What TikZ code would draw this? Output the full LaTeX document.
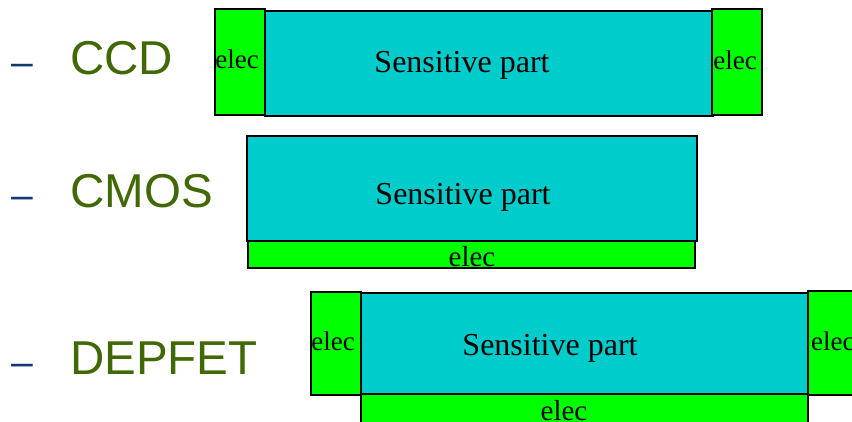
\documentclass[tikz,border=0pt]{standalone}
\usepackage{fontspec}
\setmainfont{Liberation Serif}
\newfontfamily\arialf{Liberation Sans}
\definecolor{sens}{RGB}{0,204,204}
\definecolor{elecg}{RGB}{0,255,0}
\definecolor{lblgreen}{RGB}{64,104,4}
\definecolor{dashblue}{RGB}{16,58,116}
\tikzset{
  box/.style={draw=black, line width=1.4pt, inner sep=0pt, outer sep=0pt, anchor=north west},
  sensbox/.style={box, fill=sens},
  elecbox/.style={box, fill=elecg},
  sentxt/.style={inner sep=0pt, anchor=base, font=\fontsize{32}{32}\selectfont},
  electxt/.style={inner sep=0pt, anchor=base, font=\fontsize{27}{27}\selectfont},
  lbl/.style={inner sep=0pt, anchor=base west, text=lblgreen, font=\arialf\fontsize{47.5}{47.5}\selectfont},
  dashlbl/.style={inner sep=0pt, anchor=base west, text=dashblue, font=\arialf\fontsize{39}{39}\selectfont}
}
\begin{document}
\begin{tikzpicture}[x=1pt,y=-1pt]
\clip (0,0) rectangle (852,421);
\fill[white] (0,0) rectangle (852,421);
% CCD
\node[dashlbl] (d1) at (11,75.5) {–};
\node[lbl] (l1) at (70,74.5) {CCD};
\node[sensbox, minimum width=448pt, minimum height=105pt] (ccdS) at (265,11) {};
\node[elecbox, minimum width=50pt, minimum height=106pt] (ccdL) at (215,9) {};
\node[elecbox, minimum width=50pt, minimum height=106pt] (ccdR) at (712,9) {};
\node[sentxt] (ccdSt) at (462,72) {Sensitive part};
\node[electxt] (ccdLt) at (237,68) {elec};
\node[electxt] (ccdRt) at (735,69) {elec};
% CMOS
\node[dashlbl] (d2) at (11,208.5) {–};
\node[lbl] (l2) at (70,207.5) {CMOS};
\node[sensbox, minimum width=450pt, minimum height=105pt] (cmosS) at (247,136) {};
\node[elecbox, minimum width=447pt, minimum height=27pt] (cmosE) at (248,241) {};
\node[sentxt] (cmosSt) at (463,204) {Sensitive part};
\node[electxt, font=\fontsize{29}{29}\selectfont] (cmosEt) at (472,266) {elec};
% DEPFET
\node[dashlbl] (d3) at (11,375.5) {–};
\node[lbl] (l3) at (70,374.5) {DEPFET};
\node[sensbox, minimum width=447pt, minimum height=101pt] (depS) at (361,293) {};
\node[elecbox, minimum width=50pt, minimum height=103pt] (depL) at (311,292) {};
\node[elecbox, minimum width=60pt, minimum height=104pt] (depR) at (808,291) {};
\node[elecbox, minimum width=447pt, minimum height=40pt] (depB) at (361,394) {};
\node[sentxt] (depSt) at (550,355) {Sensitive part};
\node[electxt] (depLt) at (333,350) {elec};
\node[electxt, anchor=base west] (depRt) at (811,350) {elec};
\node[electxt, font=\fontsize{29}{29}\selectfont] (depBt) at (564,420) {elec};
\end{tikzpicture}
\end{document}
